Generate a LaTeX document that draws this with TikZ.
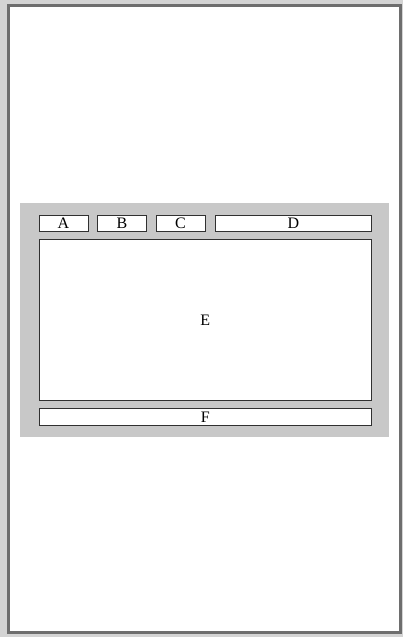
\documentclass[tikz,border=0pt]{standalone}
\usepackage{fontspec}
\setmainfont{Liberation Serif}
\usetikzlibrary{positioning}
\definecolor{pagegray}{HTML}{D4D4D4}
\definecolor{framegray}{HTML}{6E6E6E}
\definecolor{bandgray}{HTML}{C8C8C8}
\definecolor{boxline}{HTML}{303030}
\tikzset{
  slot/.style={draw=boxline,fill=white,line width=0.8pt,inner sep=0pt,
    font=\fontsize{16}{18}\selectfont},
}

\begin{document}
\begin{tikzpicture}[x=1pt,y=-1pt]
\fill[pagegray] (0,0) rectangle (403,637);
\useasboundingbox (0,0) rectangle (403,637);
\draw[framegray,fill=white,line width=3pt] (8.5,5.5) rectangle (400.5,632.5);
\fill[bandgray] (20,203) rectangle (388.5,437);
\node[slot,minimum width=49pt,minimum height=16.5pt] (A) at (63.5,223.3) {A};
\node[slot,minimum width=49pt,minimum height=16.5pt] (B) at (122,223.3) {B};
\node[slot,minimum width=49pt,minimum height=16.5pt] (C) at (180.5,223.3) {C};
\node[slot,minimum width=156.5pt,minimum height=16.5pt] (D) at (293.3,223.3) {D};
\node[slot,minimum width=332.5pt,minimum height=161.5pt] (E) at (205.3,320) {E};
\node[slot,minimum width=332.5pt,minimum height=16.3pt] (F) at (205.3,417) {F};
\end{tikzpicture}
\end{document}
